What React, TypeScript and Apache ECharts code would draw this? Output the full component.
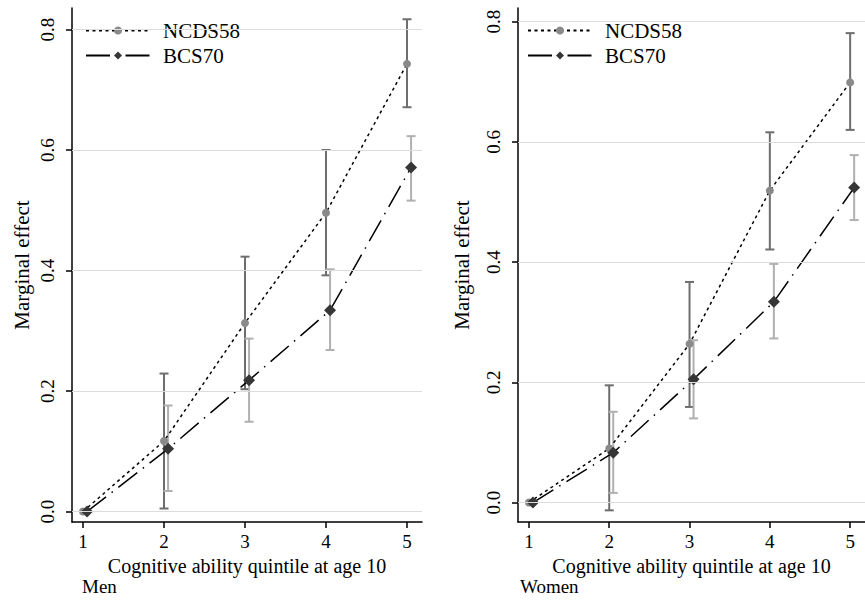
import React, { useEffect, useRef } from "react";
import * as echarts from "echarts";

const quintiles = [1, 2, 3, 4, 5];
const yTicks = [0, 0.2, 0.4, 0.6, 0.8];

// Men
const menNcds = [0, 0.117, 0.313, 0.496, 0.743];
const menNcdsLo = [0, 0.005, 0.203, 0.392, 0.671];
const menNcdsHi = [0, 0.229, 0.423, 0.6, 0.817];
const menBcs = [0, 0.104, 0.218, 0.334, 0.571];
const menBcsLo = [0, 0.034, 0.149, 0.268, 0.516];
const menBcsHi = [0, 0.176, 0.287, 0.402, 0.623];

// Women
const womenNcds = [0, 0.09, 0.264, 0.519, 0.699];
const womenNcdsLo = [0, -0.013, 0.159, 0.421, 0.62];
const womenNcdsHi = [0, 0.195, 0.367, 0.616, 0.781];
const womenBcs = [0, 0.083, 0.205, 0.334, 0.524];
const womenBcsLo = [0, 0.016, 0.14, 0.273, 0.47];
const womenBcsHi = [0, 0.151, 0.27, 0.397, 0.578];

const FONT = "Liberation Serif";
const NCDS_OFF = 0;
const BCS_OFF = 0.05;

function errSeries(name: string, xIdx: number, lo: number[], hi: number[], off: number, color: string) {
  return {
    type: "custom",
    name,
    xAxisIndex: xIdx,
    yAxisIndex: xIdx,
    z: 2,
    silent: true,
    encode: { x: 0, y: [1, 2] },
    data: quintiles.map((q, i) => [q + off, lo[i], hi[i]]),
    renderItem: (params: any, api: any) => {
      const x = api.value(0);
      const l = api.value(1);
      const h = api.value(2);
      if (l === h) return null;
      const p1 = api.coord([x, l]);
      const p2 = api.coord([x, h]);
      const w = 4.5;
      const st = { stroke: color, lineWidth: 2 };
      return {
        type: "group",
        children: [
          { type: "line", shape: { x1: p1[0], y1: p1[1], x2: p2[0], y2: p2[1] }, style: st },
          { type: "line", shape: { x1: p1[0] - w, y1: p1[1], x2: p1[0] + w, y2: p1[1] }, style: st },
          { type: "line", shape: { x1: p2[0] - w, y1: p2[1], x2: p2[0] + w, y2: p2[1] }, style: st },
        ],
      };
    },
  };
}

function lineSeries(name: string, idx: number, vals: number[], off: number, kind: "ncds" | "bcs") {
  return {
    type: "line",
    name,
    xAxisIndex: idx,
    yAxisIndex: idx,
    z: 3,
    data: quintiles.map((q, i) => [q + off, vals[i]]),
    symbol: kind === "ncds" ? "circle" : "diamond",
    symbolSize: kind === "ncds" ? 8 : 12,
    itemStyle: { color: kind === "ncds" ? "#8a8a8a" : "#363636" },
    lineStyle: {
      color: "#000",
      width: 1.5,
      type: kind === "ncds" ? [3, 3.5] : [24, 7, 1.5, 7],
    },
  };
}

function gridLines(idx: number) {
  return {
    type: "line",
    name: "grid" + idx,
    xAxisIndex: idx,
    yAxisIndex: idx,
    z: 1,
    data: [],
    markLine: {
      silent: true,
      symbol: "none",
      label: { show: false },
      lineStyle: { color: "#dcdcdc", type: "solid", width: 1.2 },
      data: yTicks.map((v) => ({ yAxis: v })),
    },
  };
}

function xAxis(idx: number) {
  return {
    type: "value",
    gridIndex: idx,
    min: 0.864,
    max: 5.185,
    name: "Cognitive ability quintile at age 10",
    nameLocation: "middle",
    nameGap: 29,
    nameTextStyle: { fontFamily: FONT, fontSize: 20, color: "#000" },
    axisLine: { show: true, onZero: false, lineStyle: { color: "#000", width: 1.5 } },
    axisTick: { show: true, length: 6, customValues: quintiles, lineStyle: { color: "#000", width: 1.5 } },
    axisLabel: { customValues: quintiles, margin: 10, fontFamily: FONT, fontSize: 19, color: "#000" },
    splitLine: { show: false },
  };
}

function yAxis(idx: number, min: number, max: number, nameGap: number) {
  return {
    type: "value",
    gridIndex: idx,
    min,
    max,
    name: "Marginal effect",
    nameLocation: "middle",
    nameGap,
    nameRotate: 90,
    nameTextStyle: { fontFamily: FONT, fontSize: 21, color: "#000" },
    axisLine: { show: true, onZero: false, lineStyle: { color: "#000", width: 1.5 } },
    axisTick: { show: true, length: 6, customValues: yTicks, lineStyle: { color: "#000", width: 1.5 } },
    axisLabel: {
      customValues: yTicks,
      rotate: 90,
      margin: 15,
      fontFamily: FONT,
      fontSize: 19,
      color: "#000",
      formatter: (v: number) => v.toFixed(1),
    },
    splitLine: { show: false },
  };
}

function legend(left: number) {
  return {
    orient: "vertical",
    left,
    top: 15,
    itemWidth: 64,
    itemHeight: 10,
    itemGap: 4,
    selectedMode: false,
    data: ["NCDS58", "BCS70"],
    textStyle: { fontFamily: FONT, fontSize: 21, color: "#000", padding: [0, 0, 0, 8] },
  };
}

export default function App() {
  const ref = useRef<HTMLDivElement>(null);
  useEffect(() => {
    if (!ref.current) return;
    const chart = echarts.init(ref.current, null, { renderer: "svg" });
    chart.setOption({
      animation: false,
      backgroundColor: "#fff",
      grid: [
        { left: 72, width: 350, top: 8, bottom: 80 },
        { left: 518, width: 350, top: 8, bottom: 80 },
      ],
      legend: [legend(80), legend(522)],
      xAxis: [xAxis(0), xAxis(1)],
      yAxis: [yAxis(0, -0.0174, 0.8357, 40), yAxis(1, -0.0324, 0.8228, 46)],
      graphic: [
        { type: "text", left: 82, top: 577, style: { text: "Men", font: `19px "${FONT}"`, fill: "#000" } },
        { type: "text", left: 520, top: 577, style: { text: "Women", font: `19px "${FONT}"`, fill: "#000" } },
      ],
      series: [
        gridLines(0),
        gridLines(1),
        errSeries("ncdsErr0", 0, menNcdsLo, menNcdsHi, NCDS_OFF, "#6e6e6e"),
        errSeries("bcsErr0", 0, menBcsLo, menBcsHi, BCS_OFF, "#b0b0b0"),
        errSeries("ncdsErr1", 1, womenNcdsLo, womenNcdsHi, NCDS_OFF, "#6e6e6e"),
        errSeries("bcsErr1", 1, womenBcsLo, womenBcsHi, BCS_OFF, "#b0b0b0"),
        lineSeries("NCDS58", 0, menNcds, NCDS_OFF, "ncds"),
        lineSeries("BCS70", 0, menBcs, BCS_OFF, "bcs"),
        lineSeries("NCDS58", 1, womenNcds, NCDS_OFF, "ncds"),
        lineSeries("BCS70", 1, womenBcs, BCS_OFF, "bcs"),
      ],
    });
    return () => chart.dispose();
  }, []);
  return (
    <div
      ref={ref}
      style={{ position: "fixed", left: 0, top: 0, width: 865, height: 602, background: "#fff" }}
    />
  );
}
